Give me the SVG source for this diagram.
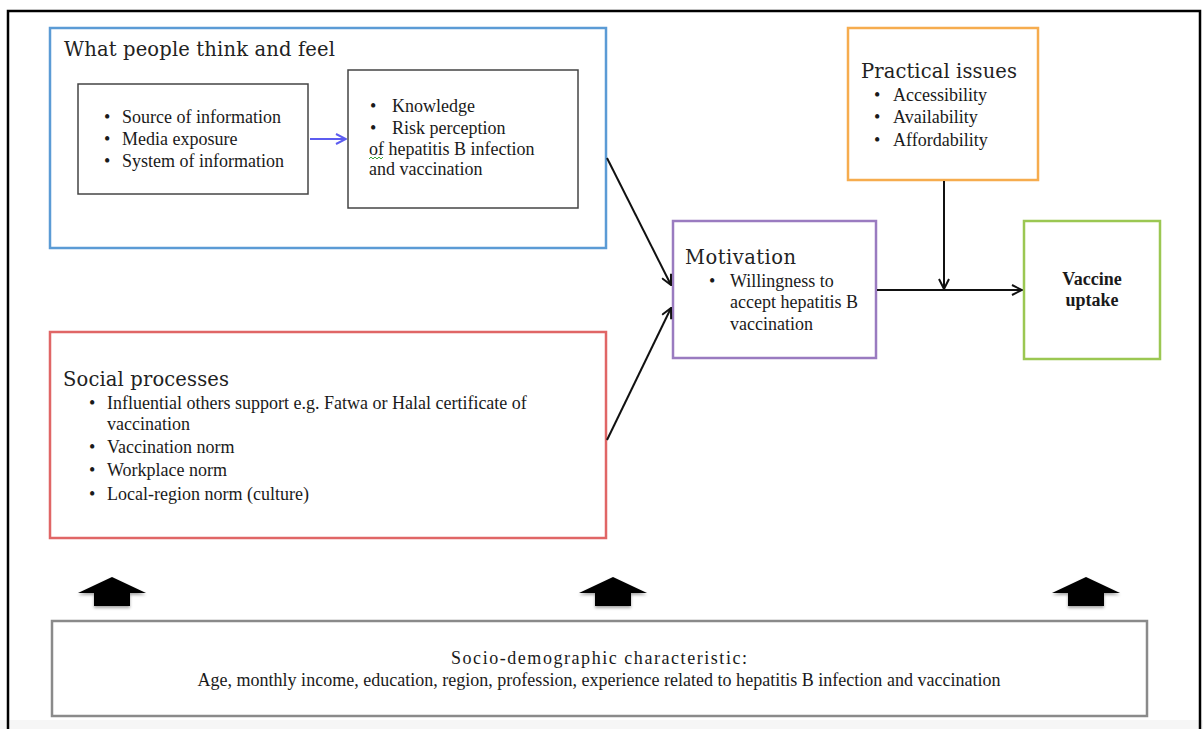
<svg xmlns="http://www.w3.org/2000/svg" width="1203" height="729" viewBox="0 0 1203 729">
<defs>
<style>
text{font-family:"Liberation Serif","Times New Roman",serif;fill:#1a1a1a;font-size:18px}
.title{font-family:"DejaVu Serif","Liberation Serif",serif;font-size:19.5px;fill:#222}
.bold{font-weight:bold;font-size:18px}
.conn{stroke:#111;stroke-width:2;fill:none}
.inner{fill:#fff;stroke:#444;stroke-width:1.5}
</style>
<marker id="ah" viewBox="0 0 12 12" refX="11" refY="6" markerWidth="12" markerHeight="12" markerUnits="userSpaceOnUse" orient="auto">
<path d="M1,1 L11,6 L1,11" fill="none" stroke="#111" stroke-width="2"/>
</marker>
<marker id="ahb" viewBox="0 0 12 12" refX="11" refY="6" markerWidth="12" markerHeight="12" markerUnits="userSpaceOnUse" orient="auto">
<path d="M1,1 L11,6 L1,11" fill="none" stroke="#5c5cf0" stroke-width="2"/>
</marker>
<filter id="sh" x="-20%" y="-20%" width="140%" height="160%">
<feGaussianBlur in="SourceAlpha" stdDeviation="1.5"/>
<feOffset dy="2" result="b"/>
<feFlood flood-color="#000" flood-opacity="0.35"/>
<feComposite in2="b" operator="in"/>
<feMerge><feMergeNode/><feMergeNode in="SourceGraphic"/></feMerge>
</filter>
<polygon id="bigup" points="0,0 34,16 18,16 18,29 -18,29 -18,16 -34,16" fill="#000"/>
</defs>
<rect x="0" y="0" width="1203" height="729" fill="#fff"/>
<rect x="0" y="720" width="1203" height="9" fill="#f6f6f6"/>
<path d="M8,729 L8,11 L1200,11 L1200,729" fill="none" stroke="#000" stroke-width="2.5"/>

<g id="think">
<rect x="50" y="28" width="556" height="220" fill="#fff" stroke="#5b9bd5" stroke-width="2.5"/>
<text class="title" x="64" y="56" textLength="271">What people think and feel</text>
</g>
<g id="info">
<rect class="inner" x="78" y="84" width="230" height="110"/>
<text x="104" y="123">•</text><text x="122" y="123">Source of information</text>
<text x="104" y="145">•</text><text x="122" y="145">Media exposure</text>
<text x="104" y="167">•</text><text x="122" y="167">System of information</text>
</g>
<g id="knowledge">
<rect class="inner" x="348" y="70" width="230" height="138"/>
<text x="370" y="112">•</text><text x="392" y="112">Knowledge</text>
<text x="370" y="134">•</text><text x="392" y="134">Risk perception</text>
<text x="369" y="155">of hepatitis B infection</text>
<text x="369" y="175">and vaccination</text>
<path d="M369,159 l2,-2 l2,2 l2,-2 l2,2 l2,-2 l2,2 l2,-2" fill="none" stroke="#3fa63f" stroke-width="1"/>
</g>
<g id="social">
<rect x="50" y="332" width="556" height="206" fill="#fff" stroke="#e06666" stroke-width="2.5"/>
<text class="title" x="63" y="386" textLength="166">Social processes</text>
<text x="89" y="409">•</text><text x="107" y="409">Influential others support e.g. Fatwa or Halal certificate of</text>
<text x="107" y="430">vaccination</text>
<text x="89" y="453">•</text><text x="107" y="453">Vaccination norm</text>
<text x="89" y="476">•</text><text x="107" y="476">Workplace norm</text>
<text x="89" y="500">•</text><text x="107" y="500">Local-region norm (culture)</text>
</g>
<g id="motivation">
<rect x="673" y="221" width="203" height="137" fill="#fff" stroke="#9a7bc0" stroke-width="2.5"/>
<text class="title" x="685" y="264" textLength="111">Motivation</text>
<text x="709" y="287">•</text><text x="730" y="287">Willingness to</text>
<text x="730" y="308">accept hepatitis B</text>
<text x="730" y="330">vaccination</text>
</g>
<g id="practical">
<rect x="848" y="28" width="190" height="152" fill="#fff" stroke="#f6ac4e" stroke-width="2.5"/>
<text class="title" x="861" y="78" textLength="156">Practical issues</text>
<text x="874" y="101">•</text><text x="893" y="101">Accessibility</text>
<text x="874" y="123">•</text><text x="893" y="123">Availability</text>
<text x="874" y="146">•</text><text x="893" y="146">Affordability</text>
</g>
<g id="uptake">
<rect x="1024" y="221" width="136" height="138" fill="#fff" stroke="#9bc752" stroke-width="2.5"/>
<text class="bold" x="1092" y="285" text-anchor="middle">Vaccine</text>
<text class="bold" x="1092" y="306" text-anchor="middle">uptake</text>
</g>
<g id="sociodemo">
<rect x="52" y="621" width="1095" height="95" fill="#fff" stroke="#8a8a8a" stroke-width="2.5"/>
<text x="599" y="664" text-anchor="middle" textLength="296" style="font-size:18px">Socio-demographic characteristic:</text>
<text x="599" y="686" text-anchor="middle" textLength="803" style="font-size:18px">Age, monthly income, education, region, profession, experience related to hepatitis B infection and vaccination</text>
</g>
<g id="connectors">
<line class="conn" x1="310" y1="139" x2="346" y2="139" marker-end="url(#ahb)" style="stroke:#5c5cf0"/>
<line class="conn" x1="607" y1="158" x2="671" y2="285" marker-end="url(#ah)"/>
<line class="conn" x1="607" y1="440" x2="671" y2="308" marker-end="url(#ah)"/>
<line class="conn" x1="877" y1="290" x2="1022" y2="290" marker-end="url(#ah)"/>
<line class="conn" x1="944" y1="181" x2="944" y2="289" marker-end="url(#ah)"/>
<use href="#bigup" x="112" y="577" filter="url(#sh)"/>
<use href="#bigup" x="613" y="577" filter="url(#sh)"/>
<use href="#bigup" x="1086" y="577" filter="url(#sh)"/>
</g>
</svg>
